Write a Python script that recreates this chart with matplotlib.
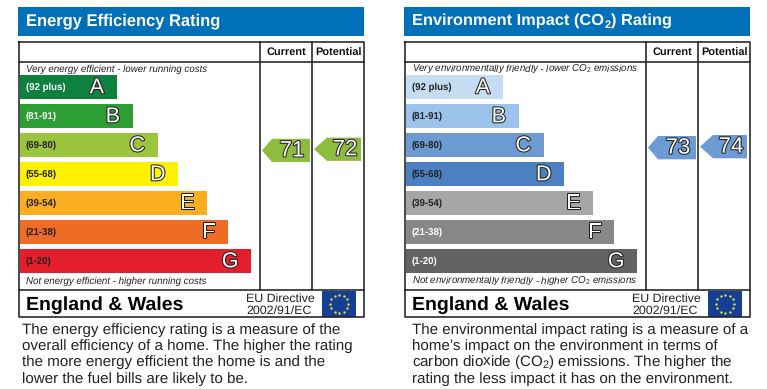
import matplotlib
matplotlib.use("Agg")
import matplotlib.pyplot as plt
import matplotlib.patheffects as pe
import numpy as np
from matplotlib.patches import Polygon, Rectangle

plt.rcParams['font.family'] = ['Liberation Sans', 'DejaVu Sans']
plt.rcParams['text.hinting'] = 'no_hinting'
plt.rcParams['mathtext.fontset'] = 'custom'
plt.rcParams['mathtext.rm'] = 'Liberation Sans'
plt.rcParams['mathtext.bf'] = 'Liberation Sans:bold'
plt.rcParams['mathtext.it'] = 'Liberation Sans:italic'

letters = ["A", "B", "C", "D", "E", "F", "G"]
bands = ["(92 plus)", "(81-91)", "(69-80)", "(55-68)", "(39-54)", "(21-38)", "(1-20)"]
bar_lengths = [97, 113, 138, 158.5, 187.5, 208.5, 231.5]
energy_colors = ["#0f8040", "#2b9e34", "#9bc53d", "#fff200", "#fbae1f", "#ee6c25", "#e41f2b"]
env_colors = ["#c5dcf3", "#9cc3ec", "#6b9bd2", "#4d80c0", "#a6a6a6", "#888888", "#636363"]
energy_label_colors = ["white", "white", "#222222", "#222222", "#222222", "#222222", "#222222"]
env_label_colors = ["#222222", "#222222", "#222222", "#222222", "#222222", "white", "white"]

energy_current, energy_potential = 71, 72
env_current, env_potential = 73, 74
energy_arrow_color = "#8fbc3f"
env_arrow_color = "#6b9bd2"

fig = plt.figure(figsize=(7.67, 3.89), dpi=100)
ax = fig.add_axes([0, 0, 1, 1])
ax.set_xlim(0, 767)
ax.set_ylim(389, 0)
ax.axis("off")

BLUE = "#0070b8"
outline = [pe.Stroke(linewidth=1.5, foreground="#222222"), pe.Normal()]


def arrow(tip, neck, right, top, bottom, color, value):
    mid = (top + bottom) / 2
    ax.add_patch(Polygon([(tip, mid), (neck, top), (right, top), (right, bottom), (neck, bottom)],
                         closed=True, fc=color, ec="none", zorder=3))
    ax.text((neck + right) / 2 + 1, mid + 0.3, str(value), fontsize=16, color="white", ha="center", va="center",
            path_effects=outline, zorder=4)


def title_pieces(x, y, pieces):
    """Lay text pieces side by side; pieces are (text, size, y offset)."""
    renderer = fig.canvas.get_renderer()
    for s, size, dy in pieces:
        t = ax.text(x, y + dy, s, color="white", fontsize=size, fontweight="bold", va="baseline", ha="left")
        x += t.get_window_extent(renderer).width + (0.8 if s == "2" else 0.4)


def panel(x0, title, title_x, colors, label_colors, top_note, bottom_note, cur, pot,
          arrow_color, cur_y, pot_y, para, para_x):
    # Title band
    ax.add_patch(Rectangle((x0 - 1, 7), 346, 28.5, fc=BLUE, ec="none"))
    title_pieces(title_x, 25, title)

    # Bars
    centers = 87 + np.arange(7) * 29
    ax.barh(centers, bar_lengths, height=23.3, left=x0 + 0.5, color=colors, zorder=2)
    for c, ln, lt, bd, lc in zip(centers, bar_lengths, letters, bands, label_colors):
        ax.text(x0 + ln - 12, c + 0.6, lt, fontsize=15.5, color="white", ha="right", va="center",
                path_effects=outline, zorder=4)
        ax.text(x0 + 7, c + 0.6, bd, fontsize=6.9, fontweight="bold", color=lc, ha="left", va="center", zorder=4)

    # Frame
    lw = 1.15
    right = x0 + 345
    col1, col2 = x0 + 241, x0 + 293
    ax.plot([x0, right, right, x0, x0], [41.5, 41.5, 317, 317, 41.5], color="#222222", lw=lw, zorder=5)
    ax.plot([x0, right], [62, 62], color="#222222", lw=lw, zorder=5)
    ax.plot([x0, right], [289.5, 289.5], color="#222222", lw=lw, zorder=5)
    ax.plot([col1, col1], [41.5, 289.5], color="#222222", lw=lw, zorder=5)
    ax.plot([col2, col2], [41.5, 289.5], color="#222222", lw=lw, zorder=5)

    ax.text((col1 + col2) / 2 + 0.5, 55, "Current", fontsize=7.9, fontweight="bold", ha="center", va="baseline", color="#111111")
    ax.text((col2 + right) / 2 + 0.5, 55.6, "Potential", fontsize=7.9, fontweight="bold", ha="center", va="baseline", color="#111111")

    ax.text(x0 + 7.5, 72, top_note, fontsize=7.0, style="italic", ha="left", va="baseline", color="#222222")
    ax.text(x0 + 7.5, 284, bottom_note, fontsize=7.0, style="italic", ha="left", va="baseline", color="#222222")

    # Rating arrows
    arrow(col1 + 2, col1 + 12, col2 - 2, cur_y, cur_y + 23.3, arrow_color, cur)
    arrow(col2 + 2, col2 + 15, right - 3, pot_y, pot_y + 23.3, arrow_color, pot)

    # Footer
    ax.text(x0 + 7, 310, "England & Wales", fontsize=14, fontweight="bold", ha="left", va="baseline", color="black")
    ax.text(x0 + 227, 302, "EU Directive", fontsize=8.9, ha="left", va="baseline", color="#222222")
    ax.text(x0 + 227, 314, "2002/91/EC", fontsize=8.9, ha="left", va="baseline", color="#222222")
    fx, fy, fw, fh = x0 + 303, 291, 34, 25.5
    ax.add_patch(Rectangle((fx, fy), fw, fh, fc="#143f92", ec="none", zorder=3))
    ang = np.deg2rad(np.arange(0, 360, 30))
    ax.scatter(fx + fw / 2 + 9 * np.cos(ang), fy + fh / 2 + 9 * np.sin(ang), s=3, color="#e8e040", linewidths=0, zorder=4)

    # Paragraph
    for i, line in enumerate(para):
        ax.text(para_x, 333.5 + i * 16.35, line, fontsize=10.9, ha="left", va="baseline", color="#222222")


panel(19, [("Energy Efficiency Rating", 11.9, 0)], 26.5, energy_colors, energy_label_colors,
      "Very energy efficient - lower running costs", "Not energy efficient - higher running costs",
      energy_current, energy_potential, energy_arrow_color, 138.8, 137.6,
      ["The energy efficiency rating is a measure of the",
       "overall efficiency of a home. The higher the rating",
       "the more energy efficient the home is and the",
       "lower the fuel bills are likely to be."], 22)

panel(405, [("Environment Impact (CO", 11.8, 0), ("2", 8, 3), (") Rating", 11.8, 0)], 412, env_colors, env_label_colors,
      r"Very environmentally friendly - lower CO$_{\mathit{2}}$ emissions",
      r"Not environmentally friendly - higher CO$_{\mathit{2}}$ emissions",
      env_current, env_potential, env_arrow_color, 136, 135,
      ["The environmental impact rating is a measure of a",
       "home’s impact on the environment in terms of",
       r"carbon dioxide (CO$_{\mathrm{2}}$) emissions. The higher the",
       "rating the less impact it has on the environment."], 412)

fig.savefig("out.png", dpi=100)
